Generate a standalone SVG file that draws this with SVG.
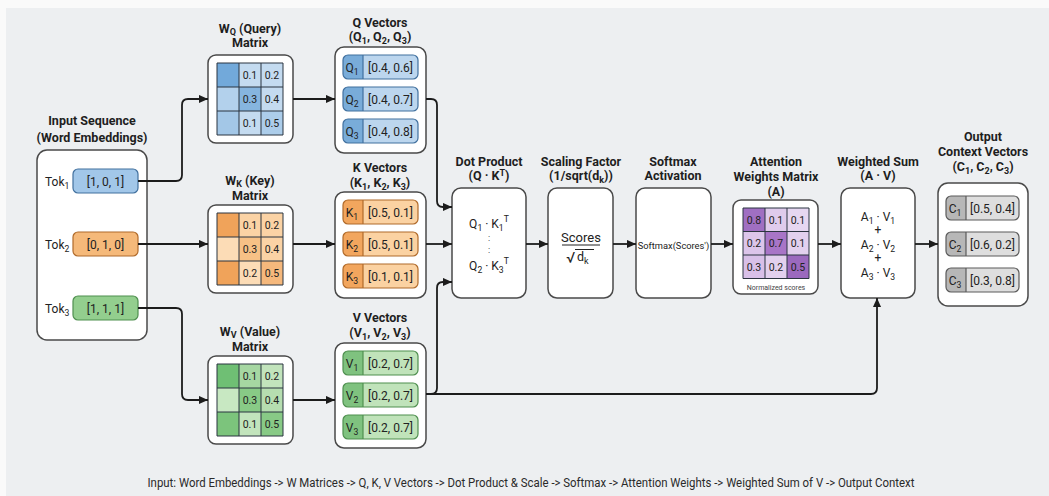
<svg xmlns="http://www.w3.org/2000/svg" width="1049" height="496" viewBox="0 0 1049 496">
  <style>
    .bg { fill: #edeff1; }
    .box { fill: #ffffff; stroke: #4a4a4a; stroke-width: 1.5; }
    .ttl { font-family: Roboto, "Liberation Sans", sans-serif; font-weight: 700; font-size: 12.5px; fill: #1e1e1e; text-anchor: middle; }
    .txt { font-family: Roboto, "Liberation Sans", sans-serif; font-size: 12px; fill: #222; text-anchor: middle; }
    .lbl { font-family: Roboto, "Liberation Sans", sans-serif; font-size: 12px; fill: #222; }
    .num { font-family: Roboto, "Liberation Sans", sans-serif; font-size: 10.5px; fill: #222; text-anchor: middle; }
    .sb { font-size: 72%; }
    .grid { fill: none; stroke: #2b3440; stroke-width: 1; }
    .ln { fill: none; stroke: #1c1c1c; stroke-width: 1.8; }
    .pill { fill: none; stroke-width: 1.2; }
    .blue .pill, .blue .dv { stroke: #41709e; }
    .blue .lf { fill: #79acd9; } .blue .vf { fill: #bcd6ee; }
    .orange .pill, .orange .dv { stroke: #b06a2a; }
    .orange .lf { fill: #f2a65e; } .orange .vf { fill: #fbd2a2; }
    .green .pill, .green .dv { stroke: #4f8f4f; }
    .green .lf { fill: #7fc27f; } .green .vf { fill: #c0e3ba; }
    .gray .pill, .gray .dv { stroke: #5a5a5a; }
    .gray .lf { fill: #b7b7b7; } .gray .vf { fill: #dedede; }
    .dv { stroke-width: 1.2; }
  </style>
  <defs>
    <marker id="ah" viewBox="0 0 10 10" refX="10" refY="5" markerWidth="10" markerHeight="9" markerUnits="userSpaceOnUse" orient="auto">
      <path d="M0,0.5 L10,5 L0,9.5 Z" fill="#1c1c1c"/>
    </marker>
  </defs>

  <!-- page -->
  <rect width="1049" height="496" fill="#fafafa"/>
  <rect class="bg" x="6" y="8" width="1043" height="488"/>

  <!-- input tokens -->
  <g id="input">
    <text class="ttl" x="92" y="124.5">Input Sequence</text>
    <text class="ttl" x="92" y="141.5">(Word Embeddings)</text>
    <rect class="box" x="37" y="150" width="110" height="190" rx="10"/>
    <g class="blue">
      <rect x="73" y="169" width="65" height="24" rx="5" fill="#a2c7e9"/>
      <rect class="pill" x="73" y="169" width="65" height="24" rx="5"/>
      <text class="txt" x="105.5" y="185.5">[1, 0, 1]</text>
    </g>
    <text class="lbl" x="45" y="185.5">Tok<tspan class="sb" dy="3">1</tspan></text>
    <g class="orange">
      <rect x="73" y="232" width="65" height="24" rx="5" fill="#f5b97a"/>
      <rect class="pill" x="73" y="232" width="65" height="24" rx="5"/>
      <text class="txt" x="105.5" y="248.5">[0, 1, 0]</text>
    </g>
    <text class="lbl" x="45" y="248.5">Tok<tspan class="sb" dy="3">2</tspan></text>
    <g class="green">
      <rect x="73" y="296" width="65" height="24" rx="5" fill="#93ce8e"/>
      <rect class="pill" x="73" y="296" width="65" height="24" rx="5"/>
      <text class="txt" x="105.5" y="312.5">[1, 1, 1]</text>
    </g>
    <text class="lbl" x="45" y="312.5">Tok<tspan class="sb" dy="3">3</tspan></text>
  </g>

  <!-- query weight matrix -->
  <g id="wq">
    <text class="ttl" x="250" y="32.5">W<tspan class="sb" dy="2">Q</tspan><tspan dy="-2"> (Query)</tspan></text>
    <text class="ttl" x="250" y="47">Matrix</text>
    <rect class="box" x="208" y="55" width="85" height="88" rx="8"/>
    <rect x="217" y="63" width="22" height="24" fill="#72a9da"/>
    <rect x="239" y="63" width="22" height="24" fill="#c4dbf0"/>
    <rect x="261" y="63" width="22" height="24" fill="#c4dbf0"/>
    <rect x="217" y="87" width="22" height="24" fill="#b3d1ec"/>
    <rect x="239" y="87" width="22" height="24" fill="#86b5df"/>
    <rect x="261" y="87" width="22" height="24" fill="#c4dbf0"/>
    <rect x="217" y="111" width="22" height="24" fill="#a3c7e7"/>
    <rect x="239" y="111" width="22" height="24" fill="#c4dbf0"/>
    <rect x="261" y="111" width="22" height="24" fill="#accdea"/>
    <path class="grid" d="M217,63 H283 V135 H217 Z M239,63 V135 M261,63 V135 M217,87 H283 M217,111 H283"/>
    <text class="num" x="250" y="79">0.1</text><text class="num" x="272" y="79">0.2</text>
    <text class="num" x="250" y="103">0.3</text><text class="num" x="272" y="103">0.4</text>
    <text class="num" x="250" y="127">0.1</text><text class="num" x="272" y="127">0.5</text>
  </g>

  <!-- key weight matrix -->
  <g id="wk">
    <text class="ttl" x="250" y="184.5">W<tspan class="sb" dy="2">K</tspan><tspan dy="-2"> (Key)</tspan></text>
    <text class="ttl" x="250" y="199.5">Matrix</text>
    <rect class="box" x="208" y="205" width="85" height="88" rx="8"/>
    <rect x="217" y="213" width="22" height="24" fill="#f0a35a"/>
    <rect x="239" y="213" width="22" height="24" fill="#fbd3a5"/>
    <rect x="261" y="213" width="22" height="24" fill="#fbd3a5"/>
    <rect x="217" y="237" width="22" height="24" fill="#fcdcb6"/>
    <rect x="239" y="237" width="22" height="24" fill="#f7c186"/>
    <rect x="261" y="237" width="22" height="24" fill="#fbd3a5"/>
    <rect x="217" y="261" width="22" height="24" fill="#f0a35a"/>
    <rect x="239" y="261" width="22" height="24" fill="#fcdcb6"/>
    <rect x="261" y="261" width="22" height="24" fill="#f5b87c"/>
    <path class="grid" d="M217,213 H283 V285 H217 Z M239,213 V285 M261,213 V285 M217,237 H283 M217,261 H283"/>
    <text class="num" x="250" y="229">0.1</text><text class="num" x="272" y="229">0.2</text>
    <text class="num" x="250" y="253">0.3</text><text class="num" x="272" y="253">0.4</text>
    <text class="num" x="250" y="277">0.2</text><text class="num" x="272" y="277">0.5</text>
  </g>

  <!-- value weight matrix -->
  <g id="wv">
    <text class="ttl" x="250" y="335.5">W<tspan class="sb" dy="2">V</tspan><tspan dy="-2"> (Value)</tspan></text>
    <text class="ttl" x="250" y="350.5">Matrix</text>
    <rect class="box" x="208" y="356" width="85" height="88" rx="8"/>
    <rect x="217" y="364" width="22" height="24" fill="#6fbf74"/>
    <rect x="239" y="364" width="22" height="24" fill="#a6d7a2"/>
    <rect x="261" y="364" width="22" height="24" fill="#c2e4bc"/>
    <rect x="217" y="388" width="22" height="24" fill="#c8e8c2"/>
    <rect x="239" y="388" width="22" height="24" fill="#88ca86"/>
    <rect x="261" y="388" width="22" height="24" fill="#b6deb0"/>
    <rect x="217" y="412" width="22" height="24" fill="#7cc47c"/>
    <rect x="239" y="412" width="22" height="24" fill="#c2e4bc"/>
    <rect x="261" y="412" width="22" height="24" fill="#88ca86"/>
    <path class="grid" d="M217,364 H283 V436 H217 Z M239,364 V436 M261,364 V436 M217,388 H283 M217,412 H283"/>
    <text class="num" x="250" y="380">0.1</text><text class="num" x="272" y="380">0.2</text>
    <text class="num" x="250" y="404">0.3</text><text class="num" x="272" y="404">0.4</text>
    <text class="num" x="250" y="428">0.1</text><text class="num" x="272" y="428">0.5</text>
  </g>

  <!-- query vectors -->
  <g id="qvec" class="blue">
    <text class="ttl" x="380" y="26.5">Q Vectors</text>
    <text class="ttl" x="380" y="41">(Q<tspan class="sb" dy="3">1</tspan><tspan dy="-3">, Q</tspan><tspan class="sb" dy="3">2</tspan><tspan dy="-3">, Q</tspan><tspan class="sb" dy="3">3</tspan><tspan dy="-3">)</tspan></text>
    <rect class="box" x="335" y="47" width="91" height="106" rx="9"/>
    <rect class="vf" x="343" y="55" width="75" height="24" rx="5"/>
    <path class="lf" d="M363,55 H348 A5,5 0 0 0 343,60 V74 A5,5 0 0 0 348,79 H363 Z"/>
    <rect class="pill" x="343" y="55" width="75" height="24" rx="5"/>
    <line class="dv" x1="363" y1="55" x2="363" y2="79"/>
    <text class="txt" x="352" y="71.5">Q<tspan class="sb" dy="3">1</tspan></text>
    <text class="txt" x="390.5" y="71.5">[0.4, 0.6]</text>
    <rect class="vf" x="343" y="87" width="75" height="24" rx="5"/>
    <path class="lf" d="M363,87 H348 A5,5 0 0 0 343,92 V106 A5,5 0 0 0 348,111 H363 Z"/>
    <rect class="pill" x="343" y="87" width="75" height="24" rx="5"/>
    <line class="dv" x1="363" y1="87" x2="363" y2="111"/>
    <text class="txt" x="352" y="103.5">Q<tspan class="sb" dy="3">2</tspan></text>
    <text class="txt" x="390.5" y="103.5">[0.4, 0.7]</text>
    <rect class="vf" x="343" y="119" width="75" height="24" rx="5"/>
    <path class="lf" d="M363,119 H348 A5,5 0 0 0 343,124 V138 A5,5 0 0 0 348,143 H363 Z"/>
    <rect class="pill" x="343" y="119" width="75" height="24" rx="5"/>
    <line class="dv" x1="363" y1="119" x2="363" y2="143"/>
    <text class="txt" x="352" y="135.5">Q<tspan class="sb" dy="3">3</tspan></text>
    <text class="txt" x="390.5" y="135.5">[0.4, 0.8]</text>
  </g>

  <!-- key vectors -->
  <g id="kvec" class="orange">
    <text class="ttl" x="380" y="171.5">K Vectors</text>
    <text class="ttl" x="380" y="186.5">(K<tspan class="sb" dy="3">1</tspan><tspan dy="-3">, K</tspan><tspan class="sb" dy="3">2</tspan><tspan dy="-3">, K</tspan><tspan class="sb" dy="3">3</tspan><tspan dy="-3">)</tspan></text>
    <rect class="box" x="335" y="192" width="91" height="106" rx="9"/>
    <rect class="vf" x="343" y="200" width="75" height="24" rx="5"/>
    <path class="lf" d="M363,200 H348 A5,5 0 0 0 343,205 V219 A5,5 0 0 0 348,224 H363 Z"/>
    <rect class="pill" x="343" y="200" width="75" height="24" rx="5"/>
    <line class="dv" x1="363" y1="200" x2="363" y2="224"/>
    <text class="txt" x="352" y="216.5">K<tspan class="sb" dy="3">1</tspan></text>
    <text class="txt" x="390.5" y="216.5">[0.5, 0.1]</text>
    <rect class="vf" x="343" y="232" width="75" height="24" rx="5"/>
    <path class="lf" d="M363,232 H348 A5,5 0 0 0 343,237 V251 A5,5 0 0 0 348,256 H363 Z"/>
    <rect class="pill" x="343" y="232" width="75" height="24" rx="5"/>
    <line class="dv" x1="363" y1="232" x2="363" y2="256"/>
    <text class="txt" x="352" y="248.5">K<tspan class="sb" dy="3">2</tspan></text>
    <text class="txt" x="390.5" y="248.5">[0.5, 0.1]</text>
    <rect class="vf" x="343" y="264" width="75" height="24" rx="5"/>
    <path class="lf" d="M363,264 H348 A5,5 0 0 0 343,269 V283 A5,5 0 0 0 348,288 H363 Z"/>
    <rect class="pill" x="343" y="264" width="75" height="24" rx="5"/>
    <line class="dv" x1="363" y1="264" x2="363" y2="288"/>
    <text class="txt" x="352" y="280.5">K<tspan class="sb" dy="3">3</tspan></text>
    <text class="txt" x="390.5" y="280.5">[0.1, 0.1]</text>
  </g>

  <!-- value vectors -->
  <g id="vvec" class="green">
    <text class="ttl" x="380" y="321.5">V Vectors</text>
    <text class="ttl" x="380" y="336.5">(V<tspan class="sb" dy="3">1</tspan><tspan dy="-3">, V</tspan><tspan class="sb" dy="3">2</tspan><tspan dy="-3">, V</tspan><tspan class="sb" dy="3">3</tspan><tspan dy="-3">)</tspan></text>
    <rect class="box" x="335" y="343" width="91" height="105" rx="9"/>
    <rect class="vf" x="343" y="351" width="75" height="24" rx="5"/>
    <path class="lf" d="M363,351 H348 A5,5 0 0 0 343,356 V370 A5,5 0 0 0 348,375 H363 Z"/>
    <rect class="pill" x="343" y="351" width="75" height="24" rx="5"/>
    <line class="dv" x1="363" y1="351" x2="363" y2="375"/>
    <text class="txt" x="352" y="367.5">V<tspan class="sb" dy="3">1</tspan></text>
    <text class="txt" x="390.5" y="367.5">[0.2, 0.7]</text>
    <rect class="vf" x="343" y="383" width="75" height="24" rx="5"/>
    <path class="lf" d="M363,383 H348 A5,5 0 0 0 343,388 V402 A5,5 0 0 0 348,407 H363 Z"/>
    <rect class="pill" x="343" y="383" width="75" height="24" rx="5"/>
    <line class="dv" x1="363" y1="383" x2="363" y2="407"/>
    <text class="txt" x="352" y="399.5">V<tspan class="sb" dy="3">2</tspan></text>
    <text class="txt" x="390.5" y="399.5">[0.2, 0.7]</text>
    <rect class="vf" x="343" y="415" width="75" height="24" rx="5"/>
    <path class="lf" d="M363,415 H348 A5,5 0 0 0 343,420 V434 A5,5 0 0 0 348,439 H363 Z"/>
    <rect class="pill" x="343" y="415" width="75" height="24" rx="5"/>
    <line class="dv" x1="363" y1="415" x2="363" y2="439"/>
    <text class="txt" x="352" y="431.5">V<tspan class="sb" dy="3">3</tspan></text>
    <text class="txt" x="390.5" y="431.5">[0.2, 0.7]</text>
  </g>

  <!-- dot product -->
  <g id="dot">
    <text class="ttl" x="489" y="165.5">Dot Product</text>
    <text class="ttl" x="489" y="180">(Q · K<tspan class="sb" dy="-4">T</tspan><tspan dy="4">)</tspan></text>
    <rect class="box" x="452" y="188" width="74" height="110" rx="9"/>
    <text class="txt" x="489" y="227.5">Q<tspan class="sb" dy="3">1</tspan><tspan dy="-3"> · K</tspan><tspan class="sb" dy="3">1</tspan><tspan class="sb" dy="-9">T</tspan></text>
    <text class="txt" x="489" y="241" style="font-size:9px">:</text>
    <text class="txt" x="489" y="253" style="font-size:9px">:</text>
    <text class="txt" x="489" y="270">Q<tspan class="sb" dy="3">2</tspan><tspan dy="-3"> · K</tspan><tspan class="sb" dy="3">3</tspan><tspan class="sb" dy="-9">T</tspan></text>
  </g>

  <!-- scaling -->
  <g id="scale">
    <text class="ttl" x="581" y="165.5">Scaling Factor</text>
    <text class="ttl" x="581" y="180">(1/sqrt(d<tspan class="sb" dy="3">k</tspan><tspan dy="-3">))</tspan></text>
    <rect class="box" x="548" y="188" width="65" height="110" rx="9"/>
    <text class="txt" x="581" y="241.5" style="font-size:13px">Scores</text>
    <line x1="562" y1="245" x2="600" y2="245" stroke="#222" stroke-width="1.2"/>
    <text class="lbl" x="566" y="263" style="font-size:15px">√</text>
    <line x1="575" y1="249.5" x2="594" y2="249.5" stroke="#222" stroke-width="1"/>
    <text class="lbl" x="577" y="261" style="font-size:12.5px">d<tspan class="sb" dy="3">k</tspan></text>
  </g>

  <!-- softmax -->
  <g id="softmax">
    <text class="ttl" x="673" y="165.5">Softmax</text>
    <text class="ttl" x="673" y="180">Activation</text>
    <rect class="box" x="636" y="188" width="75" height="110" rx="9"/>
    <text class="txt" x="673.5" y="248.5" style="font-size:9.3px">Softmax(Scores')</text>
  </g>

  <!-- attention weights -->
  <g id="attn">
    <text class="ttl" x="776" y="165.5">Attention</text>
    <text class="ttl" x="776" y="180.5">Weights Matrix</text>
    <text class="ttl" x="776" y="195.5">(A)</text>
    <rect class="box" x="733" y="200" width="85" height="94" rx="8"/>
    <rect x="743" y="208" width="22" height="23.5" fill="#a06fc2"/>
    <rect x="765" y="208" width="22" height="23.5" fill="#dfcbec"/>
    <rect x="787" y="208" width="22" height="23.5" fill="#e6d7f1"/>
    <rect x="743" y="231.5" width="22" height="23.5" fill="#dcc5ea"/>
    <rect x="765" y="231.5" width="22" height="23.5" fill="#a875c7"/>
    <rect x="787" y="231.5" width="22" height="23.5" fill="#e2d0ee"/>
    <rect x="743" y="255" width="22" height="23.5" fill="#d8c0e8"/>
    <rect x="765" y="255" width="22" height="23.5" fill="#e2d0ee"/>
    <rect x="787" y="255" width="22" height="23.5" fill="#9b69be"/>
    <path class="grid" d="M743,208 H809 V278.5 H743 Z M765,208 V278.5 M787,208 V278.5 M743,231.5 H809 M743,255 H809"/>
    <text class="num" x="754" y="223.5">0.8</text><text class="num" x="776" y="223.5">0.1</text><text class="num" x="798" y="223.5">0.1</text>
    <text class="num" x="754" y="247">0.2</text><text class="num" x="776" y="247">0.7</text><text class="num" x="798" y="247">0.1</text>
    <text class="num" x="754" y="270.5">0.3</text><text class="num" x="776" y="270.5">0.2</text><text class="num" x="798" y="270.5">0.5</text>
    <text class="txt" x="776" y="289.5" style="font-size:7px;fill:#444">Normalized scores</text>
  </g>

  <!-- weighted sum -->
  <g id="wsum">
    <text class="ttl" x="878" y="165.5">Weighted Sum</text>
    <text class="ttl" x="878" y="180">(A · V)</text>
    <rect class="box" x="841" y="188" width="74" height="110" rx="9"/>
    <text class="txt" x="878" y="221">A<tspan class="sb" dy="3">1</tspan><tspan dy="-3"> · V</tspan><tspan class="sb" dy="3">1</tspan></text>
    <text class="txt" x="878" y="234">+</text>
    <text class="txt" x="878" y="249">A<tspan class="sb" dy="3">2</tspan><tspan dy="-3"> · V</tspan><tspan class="sb" dy="3">2</tspan></text>
    <text class="txt" x="878" y="262">+</text>
    <text class="txt" x="878" y="277">A<tspan class="sb" dy="3">3</tspan><tspan dy="-3"> · V</tspan><tspan class="sb" dy="3">3</tspan></text>
  </g>

  <!-- output context vectors -->
  <g id="output" class="gray">
    <text class="ttl" x="983" y="140.5">Output</text>
    <text class="ttl" x="983" y="155.5">Context Vectors</text>
    <text class="ttl" x="983" y="171">(C<tspan class="sb" dy="3">1</tspan><tspan dy="-3">, C</tspan><tspan class="sb" dy="3">2</tspan><tspan dy="-3">, C</tspan><tspan class="sb" dy="3">3</tspan><tspan dy="-3">)</tspan></text>
    <rect class="box" x="938" y="183" width="90" height="123" rx="10"/>
    <rect class="vf" x="946" y="196" width="73" height="24" rx="5"/>
    <path class="lf" d="M966,196 H951 A5,5 0 0 0 946,201 V215 A5,5 0 0 0 951,220 H966 Z"/>
    <rect class="pill" x="946" y="196" width="73" height="24" rx="5"/>
    <line class="dv" x1="966" y1="196" x2="966" y2="220"/>
    <text class="txt" x="955" y="212.5">C<tspan class="sb" dy="3">1</tspan></text>
    <text class="txt" x="992.5" y="212.5">[0.5, 0.4]</text>
    <rect class="vf" x="946" y="232" width="73" height="24" rx="5"/>
    <path class="lf" d="M966,232 H951 A5,5 0 0 0 946,237 V251 A5,5 0 0 0 951,256 H966 Z"/>
    <rect class="pill" x="946" y="232" width="73" height="24" rx="5"/>
    <line class="dv" x1="966" y1="232" x2="966" y2="256"/>
    <text class="txt" x="955" y="248.5">C<tspan class="sb" dy="3">2</tspan></text>
    <text class="txt" x="992.5" y="248.5">[0.6, 0.2]</text>
    <rect class="vf" x="946" y="268" width="73" height="24" rx="5"/>
    <path class="lf" d="M966,268 H951 A5,5 0 0 0 946,273 V287 A5,5 0 0 0 951,292 H966 Z"/>
    <rect class="pill" x="946" y="268" width="73" height="24" rx="5"/>
    <line class="dv" x1="966" y1="268" x2="966" y2="292"/>
    <text class="txt" x="955" y="284.5">C<tspan class="sb" dy="3">3</tspan></text>
    <text class="txt" x="992.5" y="284.5">[0.3, 0.8]</text>
  </g>

  <!-- connectors -->
  <g id="connectors">
    <path class="ln" marker-end="url(#ah)" d="M138,181 H176 Q182,181 182,175 V105 Q182,99 188,99 H208"/>
    <path class="ln" marker-end="url(#ah)" d="M138,244 H208"/>
    <path class="ln" marker-end="url(#ah)" d="M138,308 H176 Q182,308 182,314 V394 Q182,400 188,400 H208"/>
    <path class="ln" marker-end="url(#ah)" d="M293,99 H335"/>
    <path class="ln" marker-end="url(#ah)" d="M293,244 H335"/>
    <path class="ln" marker-end="url(#ah)" d="M293,400 H335"/>
    <path class="ln" marker-end="url(#ah)" d="M426,99 H431 Q437,99 437,105 V201 Q437,207 443,207 H452"/>
    <path class="ln" marker-end="url(#ah)" d="M426,244 H452"/>
    <path class="ln" marker-end="url(#ah)" d="M426,394 H431 Q437,394 437,388 V288 Q437,282 443,282 H452"/>
    <path class="ln" marker-end="url(#ah)" d="M431,394 H871 Q877,394 877,388 V298"/>
    <path class="ln" marker-end="url(#ah)" d="M526,244 H548"/>
    <path class="ln" marker-end="url(#ah)" d="M613,244 H636"/>
    <path class="ln" marker-end="url(#ah)" d="M711,244 H733"/>
    <path class="ln" marker-end="url(#ah)" d="M818,244 H841"/>
    <path class="ln" marker-end="url(#ah)" d="M915,244 H938"/>
  </g>

  <!-- pipeline summary -->
  <text x="531" y="487" textLength="767" lengthAdjust="spacingAndGlyphs" style="font-family:Roboto, 'Liberation Sans', sans-serif;font-size:12px;fill:#2a2a2a;text-anchor:middle">Input: Word Embeddings -&gt; W Matrices -&gt; Q, K, V Vectors -&gt; Dot Product &amp; Scale -&gt; Softmax -&gt; Attention Weights -&gt; Weighted Sum of V -&gt; Output Context</text>
</svg>
